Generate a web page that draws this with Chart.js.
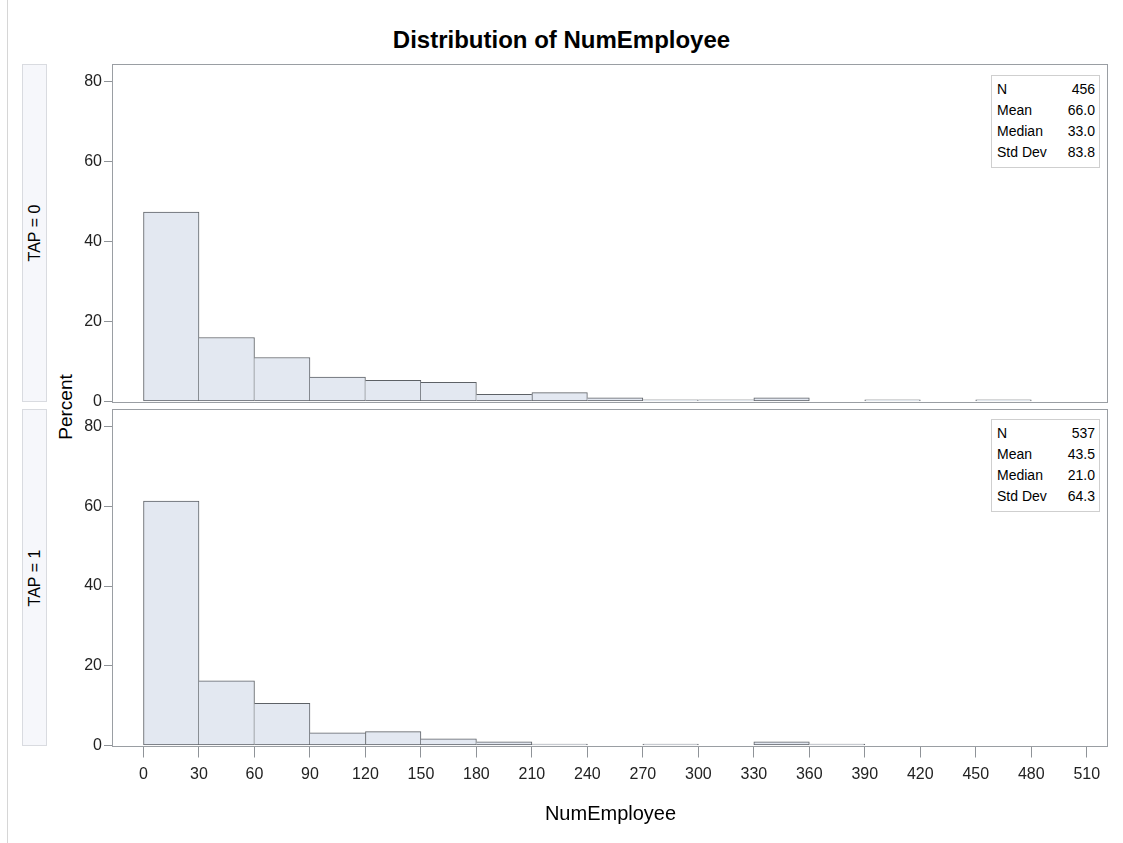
<!DOCTYPE html>
<html>
<head>
<meta charset="utf-8">
<script src="https://cdn.jsdelivr.net/npm/chart.js@4.4.0/dist/chart.umd.min.js"></script>
<style>
  body { margin: 0; background: #fff; font-family: "Liberation Sans", Arial, sans-serif; }
  #page { position: relative; width: 1123px; height: 843px; overflow: hidden; }
  .frame { position: absolute; left: 7px; top: 0; width: 1px; height: 843px; background: #d6d6d6; }
  #title { position: absolute; left: 0; width: 1123px; top: 26px; line-height: 28px; text-align: center; font-weight: bold; font-size: 24px; color: #000; }
  .strip { position: absolute; left: 22px; width: 25px; background: #f6f7fb; border: 1px solid #d9dbe0; box-sizing: border-box; }
  .strip span, #ylab { position: absolute; left: 50%; top: 50%; transform: translate(-50%, -50%) rotate(-90deg); white-space: nowrap; font-size: 16px; color: #000; }
  #ylabwrap { position: absolute; left: 55px; width: 22px; top: 362px; height: 90px; }
  #ylab { font-size: 19px; }
  #xlab { position: absolute; left: 113px; width: 995px; top: 802px; line-height: 22px; text-align: center; font-size: 20px; color: #000; }
  .box { position: absolute; }
  .stats { position: absolute; left: 991px; width: 109px; border: 1px solid #cfcfcf; background: #fff; box-sizing: border-box; padding: 3px 4px 4px 5px; font-size: 14px; color: #000; }
  .stats table { border-collapse: collapse; width: 100%; }
  .stats td { padding: 0; height: 21px; line-height: 21px; white-space: nowrap; }
  .stats td.v { text-align: right; }
</style>
</head>
<body>
<div id="page">
  <div class="frame"></div>
  <div id="title">Distribution of NumEmployee</div>

  <div class="strip" style="top:64px;height:338px;"><span>TAP = 0</span></div>
  <div class="strip" style="top:409px;height:337px;"><span>TAP = 1</span></div>
  <div id="ylabwrap"><div id="ylab">Percent</div></div>

  <div class="box" style="left:0;top:0;width:1123px;height:420px;"><canvas id="tap0"></canvas></div>
  <div class="box" style="left:0;top:380px;width:1123px;height:463px;"><canvas id="tap1"></canvas></div>

  <div class="stats" style="top:75px;">
    <table id="stats0"></table>
  </div>
  <div class="stats" style="top:419px;">
    <table id="stats1"></table>
  </div>

  <div id="xlab">NumEmployee</div>
</div>

<script>
// bin midpoints (width 30) and percent per bin
const binMids = [15, 45, 75, 105, 135, 165, 195, 225, 255, 285, 315, 345, 375, 405, 435, 465, 495];
const tap0Pct = [47.4, 16.0, 11.0, 6.1, 5.3, 4.8, 1.8, 2.2, 0.9, 0.44, 0.44, 0.9, null, 0.44, null, 0.44, null];
const tap1Pct = [61.3, 16.2, 10.6, 3.2, 3.5, 1.7, 0.93, 0.37, null, 0.37, null, 0.93, 0.37, null, null, null, null];

const xTicks = [0, 30, 60, 90, 120, 150, 180, 210, 240, 270, 300, 330, 360, 390, 420, 450, 480, 510];
const yTicks = [0, 20, 40, 60, 80];

const statLabels = ["N", "Mean", "Median", "Std Dev"];
const tap0Stats = ["456", "66.0", "33.0", "83.8"];
const tap1Stats = ["537", "43.5", "21.0", "64.3"];

function fillStats(id, vals) {
  document.getElementById(id).innerHTML = statLabels.map(function (l, i) {
    return '<tr><td>' + l + '</td><td class="v">' + vals[i] + '</td></tr>';
  }).join('');
}
fillStats('stats0', tap0Stats);
fillStats('stats1', tap1Stats);

// draw the plot frame around the chart area
const framePlugin = {
  id: 'frame',
  beforeDatasetsDraw(chart) {
    const a = chart.chartArea, c = chart.ctx;
    c.save();
    c.strokeStyle = '#9a9ea3';
    c.lineWidth = 1;
    c.strokeRect(Math.round(a.left) - 0.5, Math.round(a.top) + 0.5, Math.round(a.right - a.left), Math.round(a.bottom - a.top));
    c.restore();
  }
};

// shared edges are drawn only once, by the taller bar
function edgeWidth(ctx) {
  const d = ctx.dataset.data, i = ctx.dataIndex;
  const cur = d[i].y;
  const prev = i > 0 ? d[i - 1].y : null;
  const next = i < d.length - 1 ? d[i + 1].y : null;
  return {
    top: 1,
    bottom: 1,
    left: (prev == null || prev < cur) ? 1 : 0,
    right: (next == null || next <= cur) ? 1 : 0
  };
}

const tickFont = { family: 'Liberation Sans', size: 16 };

function makeChart(id, values, showX, padding) {
  return new Chart(document.getElementById(id), {
    type: 'bar',
    data: {
      datasets: [{
        data: binMids.map(function (x, i) { return { x: x, y: values[i] }; }),
        backgroundColor: '#e3e8f1',
        borderColor: '#5d6166',
        borderWidth: edgeWidth,
        borderSkipped: false,
        barPercentage: 1,
        categoryPercentage: 1,
        grouped: false
      }]
    },
    options: {
      responsive: true,
      maintainAspectRatio: false,
      animation: false,
      layout: { padding: padding },
      plugins: { legend: { display: false }, tooltip: { enabled: false } },
      scales: {
        x: {
          type: 'linear',
          min: -16.5,
          max: 521.5,
          offset: false,
          display: showX,
          afterBuildTicks: function (s) { s.ticks = xTicks.map(function (v) { return { value: v }; }); },
          afterFit: function (s) { if (showX) s.height = 97.5; },
          grid: { offset: false, drawOnChartArea: false, drawTicks: true, tickLength: 12, color: '#8f9398' },
          border: { display: false },
          ticks: { autoSkip: false, maxRotation: 0, padding: 7, color: '#222', font: tickFont }
        },
        y: {
          min: 0,
          max: 84.4,
          afterBuildTicks: function (s) { s.ticks = yTicks.map(function (v) { return { value: v }; }); },
          afterFit: function (s) { s.width = 113; },
          grid: { drawOnChartArea: false, drawTicks: true, tickLength: 9, color: '#8f9398' },
          border: { display: false },
          ticks: { padding: 2, color: '#222', font: tickFont }
        }
      }
    },
    plugins: [framePlugin]
  });
}

makeChart('tap0', tap0Pct, false, { top: 64, right: 15, bottom: 18.5, left: 0 });
makeChart('tap1', tap1Pct, true, { top: 29, right: 15, bottom: 0, left: 0 });
</script>
</body>
</html>
